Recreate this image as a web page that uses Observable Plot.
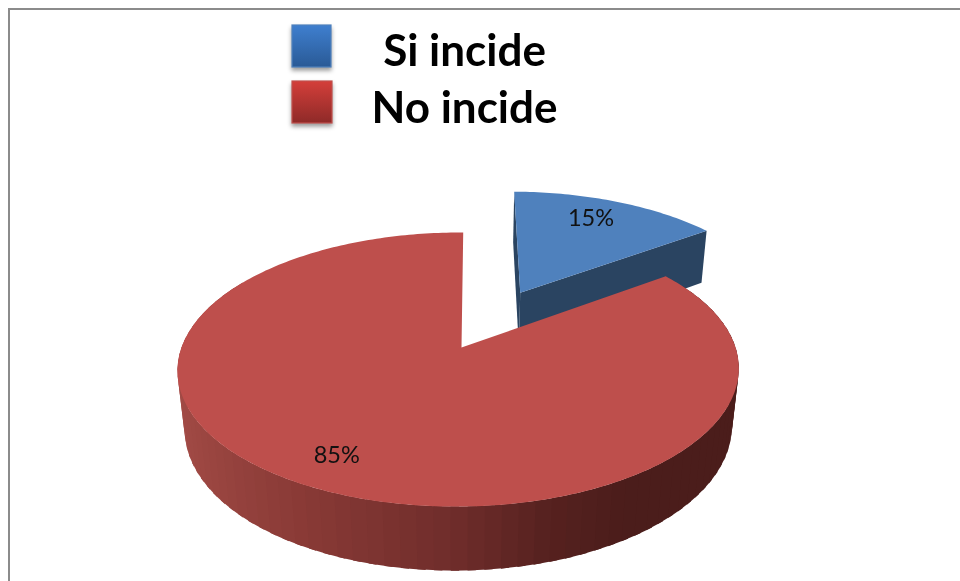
<!DOCTYPE html>
<html>
<head>
<meta charset="utf-8">
<script src="https://cdn.jsdelivr.net/npm/d3@7"></script>
<script src="https://cdn.jsdelivr.net/npm/@observablehq/plot@0.6"></script>
<style>
html,body{margin:0;padding:0;background:#fff;overflow:hidden;width:960px;height:581px}
#frame{position:absolute;left:8px;top:8px;width:1000px;height:640px;border:2.5px solid #8b8b8b;box-sizing:border-box}
#chart{position:absolute;left:0;top:0}
#chart svg{display:block;filter:blur(0.4px)}
</style>
</head>
<body>
<div id="frame"></div>
<div id="chart"></div>
<script>
// Data
const categories = ["Si incide", "No incide"];
const shares = [15, 85];
const labels = ["15%", "85%"];
const topColors = ["#4f81bd", "#be4f4c"];
const faceColor = "#2a4461";
const explode = [0.494, 0];

// 3D pie view (perspective of a unit disc, Z = thickness)
const view = {ax: 461, ay: 347, rx: 277, ry: 133.5, k: 0.1606, j: 0.0107, shear: 2, depth: 59.4, zk: 0.025};
const toRad = Math.PI / 180;
function project(X, Y, Z = 0) {
  const w = 1 + view.k * Y + view.j * X + view.zk * Z;
  return {
    x: view.ax + (view.rx * X + view.shear * Y) / w,
    y: view.ay + (-view.ry * Y + view.depth * Z) / w
  };
}
// slices, clockwise from the top
let acc = 0;
const slices = categories.map((name, i) => {
  const a0 = acc * 3.6;
  acc += shares[i];
  const a1 = acc * 3.6, mid = (a0 + a1) / 2;
  return {
    name, i, a0, a1, mid,
    ox: explode[i] * Math.sin(mid * toRad),
    oy: explode[i] * Math.cos(mid * toRad)
  };
});
const rimPoint = (s, deg, Z = 0, r = 1) =>
  project(s.ox + r * Math.sin(deg * toRad), s.oy + r * Math.cos(deg * toRad), Z);

function topPolygon(s) {
  const pts = [project(s.ox, s.oy)];
  for (const d of d3.range(s.a0, s.a1 + 0.01, 1)) pts.push(rimPoint(s, Math.min(d, s.a1)));
  return pts.map(p => ({...p, id: s.name, color: topColors[s.i]}));
}
function cutFace(s, deg) {
  const id = s.name + deg;
  return [project(s.ox, s.oy), rimPoint(s, deg), rimPoint(s, deg, 1), project(s.ox, s.oy, 1)]
    .map(p => ({...p, id, color: faceColor}));
}
// Rim shading: light on the left, dark on the right
const shade = d3.scaleLinear()
  .domain([-1, -0.5, 0, 0.3, 0.55, 1])
  .range(["#a44c47", "#8b3b37", "#702d2b", "#56211f", "#4b1d1b", "#4b1d1b"])
  .interpolate(d3.interpolateRgb);
function rim(s) {
  const out = [];
  const step = 3;
  // Only the part of the rim facing the viewer; each band overlaps the next one.
  for (let d = Math.max(s.a0, 60); d < Math.min(s.a1, 300); d += step) {
    const e = d + step + 1.5;
    const id = s.name + "-" + d;
    const color = shade(Math.sin((d + step / 2) * toRad));
    [rimPoint(s, d), rimPoint(s, e), rimPoint(s, e, 1), rimPoint(s, d, 1)]
      .forEach(p => out.push({...p, id, color}));
  }
  return out;
}
const [blue, red] = slices;
const facesData = [...cutFace(blue, blue.a0), ...cutFace(blue, blue.a1)];
const rimData = rim(red).reverse();
const topData = topPolygon(blue);
const topRedData = topPolygon(red);
const labelData = slices.map((s, i) => ({...rimPoint(s, s.mid, 0, 0.8), text: labels[i]}));

// Legend
const legend = categories.map((name, i) => ({name, i}));
const swatchTop = i => 25 + 56 * i;

const polygon = data => Plot.line(data, {
  x: "x", y: "y", z: "id", fill: "color", stroke: "none", curve: "linear-closed"
});

const gradients = () => {
  const svgNS = "http://www.w3.org/2000/svg";
  const defs = document.createElementNS(svgNS, "defs");
  [["gradSi", "#3f7fcf", "#2a5a96"], ["gradNo", "#d43f3a", "#8e2a28"]].forEach(([id, a, b]) => {
    const g = document.createElementNS(svgNS, "linearGradient");
    g.setAttribute("id", id);
    g.setAttribute("x1", 0); g.setAttribute("x2", 0); g.setAttribute("y1", 0); g.setAttribute("y2", 1);
    [[0, a], [1, b]].forEach(([o, c]) => {
      const st = document.createElementNS(svgNS, "stop");
      st.setAttribute("offset", o); st.setAttribute("stop-color", c);
      g.appendChild(st);
    });
    defs.appendChild(g);
  });
  return defs;
};

const chart = Plot.plot({
  width: 960, height: 581,
  margin: 0,
  x: {domain: [0, 960], range: [0, 960], axis: null},
  y: {domain: [0, 581], range: [0, 581], axis: null},
  color: {type: "identity"},
  style: {background: "transparent"},
  marks: [
    gradients,
    polygon(facesData),
    polygon(topData),
    polygon(rimData),
    polygon(topRedData),
    Plot.text(labelData, {
      x: "x", y: "y", text: "text", fontSize: 23.5, fill: "#111", dx: -9,
      fontFamily: "Lato", textAnchor: "middle", lineAnchor: "middle"
    }),
    // legend
    Plot.rect(legend, {
      x1: () => 292, x2: d => 331 + d.i,
      y1: d => swatchTop(d.i), y2: d => swatchTop(d.i) + 42,
      fill: d => d.i === 0 ? "url(#gradSi)" : "url(#gradNo)",
      stroke: d => d.i === 0 ? "#4f81bd" : "#c0504d", strokeWidth: 1.2,
      render(index, scales, values, dims, ctx, next) {
        const g = next(index, scales, values, dims, ctx);
        g.style.filter = "drop-shadow(0 3px 2px rgba(0,0,0,.4))";
        return g;
      }
    }),
    Plot.text(legend, {
      x: () => 464, y: d => 65 + 57 * d.i, text: "name",
      fontFamily: "Lato", fontWeight: 700, fontSize: 44, fill: "#000",
      textAnchor: "middle", lineAnchor: "bottom"
    })
  ]
});
document.getElementById("chart").appendChild(chart);
</script>
</body>
</html>
